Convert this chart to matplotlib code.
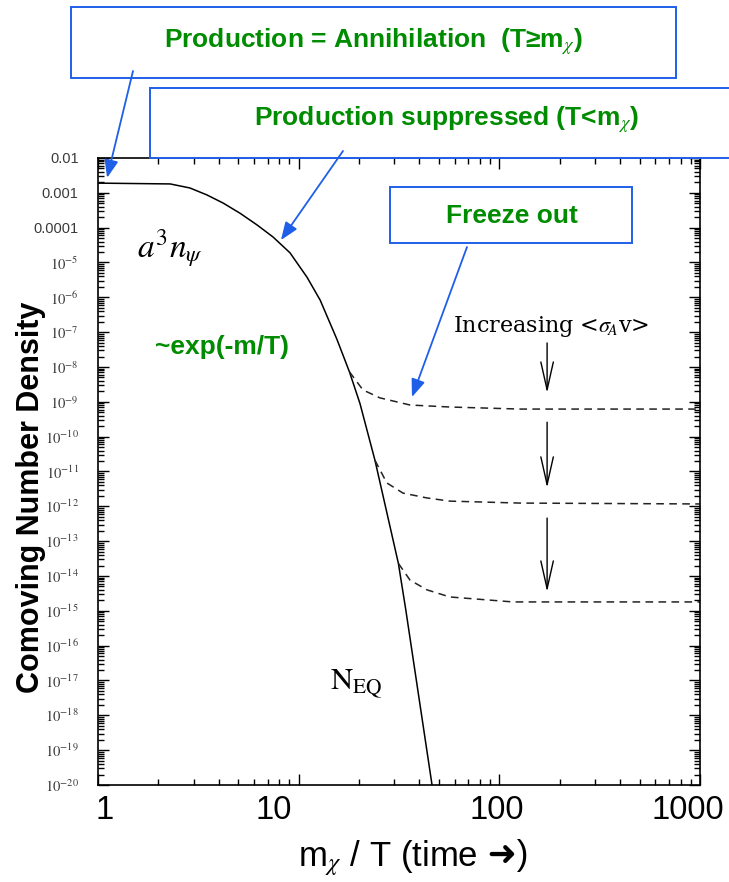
import matplotlib
matplotlib.use('Agg')
import matplotlib.pyplot as plt
from matplotlib import font_manager
from matplotlib.patches import Rectangle
from matplotlib.text import Annotation
from matplotlib.transforms import ScaledTranslation

# values
neq_x = [1.0, 2.29, 2.87, 3.49, 4.2, 5.1, 6.2, 7.45, 9.05, 11.0, 12.8, 15.5, 17.9, 20.2,
         24.0, 31.4, 34.2, 46.2]
neq_y = [1.9e-3, 1.8e-3, 1.38e-3, 8.7e-4, 5.1e-4, 2.6e-4, 1.2e-4, 5.4e-5, 1.9e-5, 3.8e-6,
         8.3e-7, 6.3e-8, 7.3e-9, 9.0e-10, 2.1e-11, 2.3e-14, 1.05e-15, 1.0e-20]

fo1_x = [17.9, 20.9, 25.4, 35.9, 56.7, 127, 1000]
fo1_y = [7.3e-9, 2.2e-9, 1.3e-9, 8.1e-10, 7.1e-10, 6.2e-10, 6.2e-10]
fo2_x = [24.0, 27.5, 33.1, 43.6, 56.7, 127, 1000]
fo2_y = [2.1e-11, 4.7e-12, 2.4e-12, 1.74e-12, 1.41e-12, 1.24e-12, 1.17e-12]
fo3_x = [31.4, 35.9, 43.6, 56.7, 117, 1000]
fo3_y = [2.3e-14, 7.6e-15, 4.0e-15, 2.5e-15, 1.8e-15, 1.8e-15]

# "increasing <sigma v>" arrows
arrow_x = 173
arrow_top = [4.9e-8, 2.6e-10, 4.6e-13]
arrow_bot = [1.8e-9, 3.4e-12, 3.5e-15]

# where the callout arrows point (data coords)
tip_x = [1.11, 8.16, 36.7]
tip_y = [2.7e-3, 4.4e-5, 1.37e-9]

xticks = [1, 10, 100, 1000]
xtick_labels = ['1', '10', '100', '1000']
yticks = [10.0 ** -k for k in range(2, 21)]
ytick_labels = ['0.01', '0.001', '0.0001'] + ['$10^{-%d}$' % k for k in range(5, 21)]

GREEN = '#008c00'
BLUE = '#1f5fe8'
W, H = 729, 882

available = {f.name for f in font_manager.fontManager.ttflist}
NARROW = 'Liberation Sans Narrow' if 'Liberation Sans Narrow' in available else 'Liberation Sans'
SANS = [NARROW, 'DejaVu Sans']
plt.rcParams['mathtext.fontset'] = 'stix'


def fx(px):
    return px / W


def fy(py):
    return 1 - py / H


fig = plt.figure(figsize=(W / 100, H / 100), dpi=100)
fig.patch.set_facecolor('white')
ax = fig.add_axes([fx(98), fy(785), fx(700) - fx(98), fy(158) - fy(785)])

ax.plot(neq_x, neq_y, color='black', lw=1.1)
for xs, ys in [(fo1_x, fo1_y), (fo2_x, fo2_y), (fo3_x, fo3_y)]:
    ax.plot(xs, ys, color='#222222', lw=1.1, ls=(0, (5, 3.5)))

for top, bot in zip(arrow_top, arrow_bot):
    ax.annotate('', xy=(arrow_x, bot), xytext=(arrow_x, top),
                arrowprops=dict(arrowstyle='->,head_length=2.0,head_width=0.45',
                                color='black', lw=1.0, shrinkA=0, shrinkB=0))

ax.set_xscale('log')
ax.set_yscale('log')
ax.set_xlim(1, 1000)
ax.set_ylim(1e-20, 1e-2)

ax.set_xticks(xticks, xtick_labels)
ax.set_yticks(yticks, ytick_labels)
ax.yaxis.set_minor_locator(matplotlib.ticker.LogLocator(base=10, subs=range(2, 10), numticks=50))
ax.yaxis.set_minor_formatter(matplotlib.ticker.NullFormatter())
ax.xaxis.set_minor_formatter(matplotlib.ticker.NullFormatter())
ax.tick_params(which='both', direction='in', top=True, right=True, width=1.0)
ax.tick_params(which='major', length=8)
ax.tick_params(which='minor', length=4)
ax.tick_params(axis='x', which='major', pad=7, labelsize=23.5)
ax.tick_params(axis='y', which='major', pad=14, labelsize=10.5, labelcolor='#3a3a3a')
for lab in ax.get_xticklabels():
    lab.set_family(SANS)
for lab in ax.get_yticklabels():
    lab.set_family(['Liberation Sans', 'DejaVu Sans'])
# the slide's tick numbers sit a little off the original ticks
for lab, dx in zip(ax.get_xticklabels(), [7, -25, -3, -12]):
    lab.set_transform(lab.get_transform() + ScaledTranslation(dx / 100, 0, fig.dpi_scale_trans))
for sp in ax.spines.values():
    sp.set_linewidth(1.2)

# x label: the heavy arrow is not in the mathtext fonts, so it goes in its own text
ax.set_xlabel('m$_\\chi$ / T (time', fontsize=25, family=SANS, ha='left')
ax.xaxis.set_label_coords((298 - 98) / 602, -(838 - 785) / 627)
ax.annotate(' \u279c)', xy=(1, 0.55), xycoords=ax.xaxis.label, ha='left', va='center',
            fontsize=25, family=['Liberation Sans', 'DejaVu Sans'], annotation_clip=False)
ax.set_ylabel('Comoving Number Density', fontsize=22, fontweight='bold', family=SANS)
ax.yaxis.set_label_coords((46 - 98) / 602, (785 - 497) / 627)

ax.text(1.56, 1.35e-5, '$a^3n_\\psi$', fontsize=24, va='baseline')
ax.text(4.15, 3.7e-8, '~exp(-m/T)', fontsize=19, fontweight='bold', color=GREEN,
        family=SANS, ha='center', va='center')
ax.text(14.3, 5.4e-18, '$\\mathrm{N}_{\\mathrm{EQ}}$', fontsize=22, va='baseline')
ax.text(58.7, 1e-7, 'Increasing <$\\sigma_{\\!A}$v>', fontsize=16, va='baseline',
        family=['DejaVu Serif'])

# callout boxes of the slide
boxes = [(71, 7, 676, 78), (150, 88, 760, 158), (390, 187, 632, 243)]
for x0, y0, x1, y1 in boxes:
    fig.add_artist(Rectangle((fx(x0), fy(y1)), fx(x1) - fx(x0), fy(y0) - fy(y1),
                             transform=fig.transFigure, facecolor='white',
                             edgecolor=BLUE, lw=1.4, zorder=3))

fig.text(fx(373), fy(42), 'Production = Annihilation  (T\u2265m$_\\chi$)', fontsize=19,
         fontweight='bold', color=GREEN, family=SANS, ha='center', va='center', zorder=4)
fig.text(fx(447), fy(120), 'Production suppressed (T<m$_\\chi$)', fontsize=19,
         fontweight='bold', color=GREEN, family=SANS, ha='center', va='center', zorder=4)
fig.text(fx(512), fy(216), 'Freeze out', fontsize=19,
         fontweight='bold', color=GREEN, family=SANS, ha='center', va='center', zorder=4)

tails = [(133, 71), (343, 151), (467, 247)]
for (tx, ty), px_, py_ in zip(tails, tip_x, tip_y):
    ann = Annotation('', xy=(px_, py_), xycoords=ax.transData,
                     xytext=(fx(tx), fy(ty)), textcoords=fig.transFigure,
                     arrowprops=dict(arrowstyle='-|>,head_length=0.9,head_width=0.35',
                                     color=BLUE, lw=1.3, shrinkA=0, shrinkB=0,
                                     mutation_scale=12))
    ann.set_zorder(5)
    fig.add_artist(ann)

fig.savefig('out.png', dpi=100, facecolor='white')
